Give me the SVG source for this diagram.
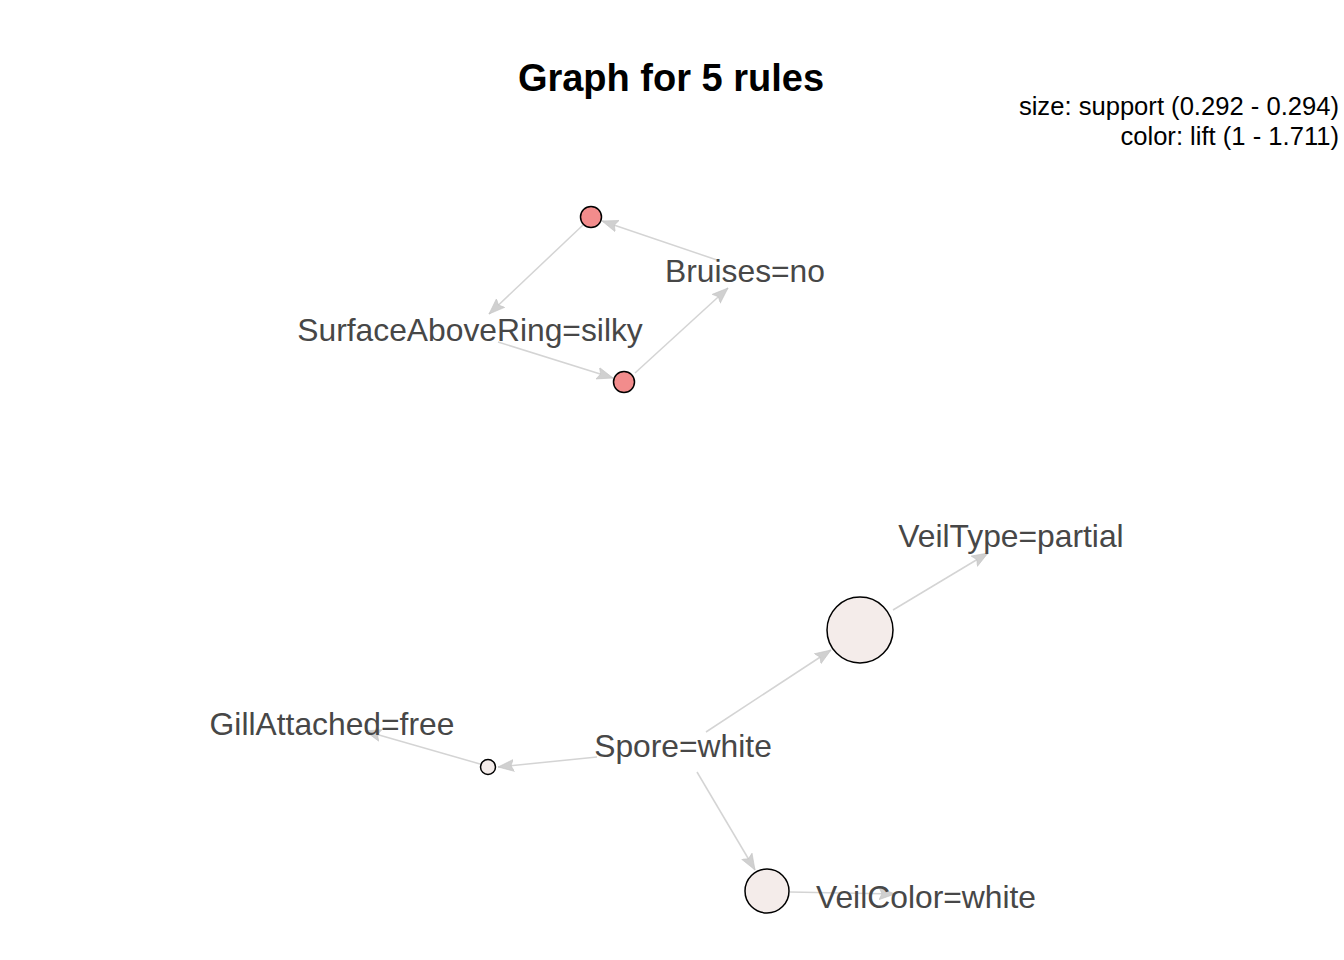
<svg xmlns="http://www.w3.org/2000/svg" width="1344" height="960" viewBox="0 0 1344 960">
<style>
.title{font-family:"Liberation Sans",Arial,sans-serif;font-weight:bold;font-size:38px;fill:#000;text-anchor:middle}
.legend{font-family:"Liberation Sans",Arial,sans-serif;font-size:25.6px;fill:#000;text-anchor:end}
.lbl{font-family:"Liberation Sans",Arial,sans-serif;font-size:31.8px;fill:#474747;text-anchor:middle}
.edge{stroke:#d4d4d4;stroke-width:1.5;fill:none}
.hi{fill:#F28C8C;stroke:#000;stroke-width:1.5}
.lo{fill:#F4ECEA;stroke:#000;stroke-width:1.5}
</style>
<defs>
<marker id="arr" markerUnits="userSpaceOnUse" markerWidth="17" markerHeight="14" viewBox="0 0 17 14" refX="16" refY="7" orient="auto">
<path d="M0,1 L16,7 L0,13 L3,7 Z" fill="#d0d0d0" stroke="#c4c4c4" stroke-width="0.6"/>
</marker>
</defs>
<rect width="1344" height="960" fill="#fff"/>
<text class="title" x="671" y="91">Graph for 5 rules</text>
<text class="legend" x="1339" y="115">size: support (0.292 - 0.294)</text>
<text class="legend" x="1339" y="145">color: lift (1 - 1.711)</text>
<g id="connectors">
<line class="edge" x1="717" y1="260" x2="602" y2="221" marker-end="url(#arr)"/>
<line class="edge" x1="583" y1="225" x2="489" y2="314" marker-end="url(#arr)"/>
<line class="edge" x1="498" y1="342" x2="613" y2="378" marker-end="url(#arr)"/>
<line class="edge" x1="635" y1="373" x2="728" y2="288" marker-end="url(#arr)"/>
<line class="edge" x1="706" y1="732" x2="831" y2="650" marker-end="url(#arr)"/>
<line class="edge" x1="893" y1="610" x2="988" y2="553" marker-end="url(#arr)"/>
<line class="edge" x1="597" y1="757" x2="498" y2="767" marker-end="url(#arr)"/>
<line class="edge" x1="480" y1="764" x2="365" y2="731" marker-end="url(#arr)"/>
<line class="edge" x1="697" y1="772" x2="755" y2="870" marker-end="url(#arr)"/>
<line class="edge" x1="790" y1="892" x2="895" y2="894" marker-end="url(#arr)"/>
</g>
<g id="rule1"><circle class="hi" cx="591" cy="217" r="10.5"/></g>
<g id="rule2"><circle class="hi" cx="624" cy="382" r="10.5"/></g>
<g id="rule3"><circle class="lo" cx="860" cy="630" r="33"/></g>
<g id="rule4"><circle class="lo" cx="767" cy="891" r="22"/></g>
<g id="rule5"><circle class="lo" cx="488" cy="767" r="7.5"/></g>
<g id="n-bruises"><text class="lbl" x="745" y="282">Bruises=no</text></g>
<g id="n-surface"><text class="lbl" x="470" y="341">SurfaceAboveRing=silky</text></g>
<g id="n-veiltype"><text class="lbl" x="1011" y="547">VeilType=partial</text></g>
<g id="n-gill"><text class="lbl" x="332" y="735">GillAttached=free</text></g>
<g id="n-spore"><text class="lbl" x="683" y="757">Spore=white</text></g>
<g id="n-veilcolor"><text class="lbl" x="926" y="908">VeilColor=white</text></g>
</svg>
